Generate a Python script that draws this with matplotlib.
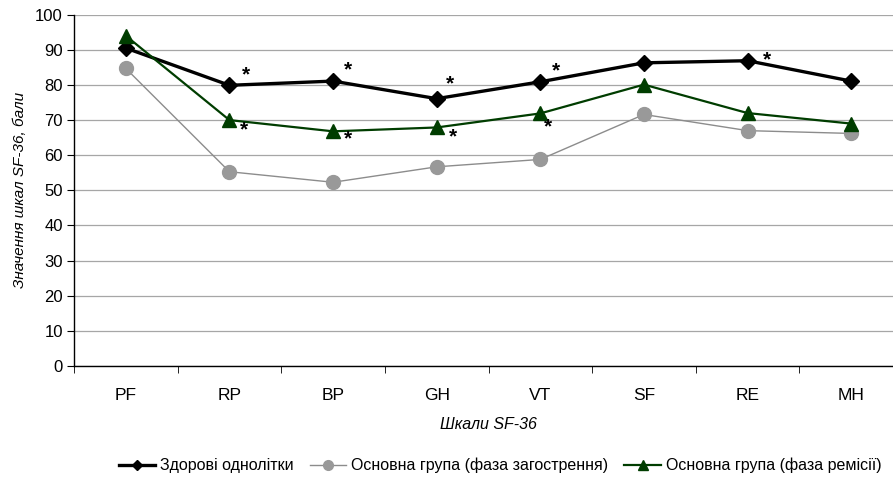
import matplotlib
matplotlib.use('Agg')
import matplotlib.pyplot as plt
from matplotlib.ticker import FixedLocator

plt.rcParams['font.family'] = ['Liberation Sans', 'DejaVu Sans']

scales = ['PF', 'RP', 'BP', 'GH', 'VT', 'SF', 'RE', 'MH']
healthy = [90.5, 79.9, 81.1, 76.1, 80.9, 86.3, 86.9, 81.1]
exacerbation = [84.7, 55.3, 52.3, 56.7, 58.8, 71.6, 67.0, 66.2]
remission = [94.0, 70.0, 66.8, 67.9, 71.9, 80.1, 72.0, 69.0]

# scales with a significant difference (marked with *)
healthy_sig = ['RP', 'BP', 'GH', 'VT', 'RE']
remission_sig = ['RP', 'BP', 'GH', 'VT']

labels = ['Здорові однолітки',
          'Основна група (фаза загострення)',
          'Основна група (фаза ремісії)']

# star offsets in pixels (dx, dy up)
healthy_off = [(17, 10), (15, 11), (13, 15), (16, 11), (19, 1)]
remission_off = [(15, -10), (15, -8), (16, -9), (8, -13)]

fig = plt.figure(figsize=(8.93, 4.8), dpi=100)
ax = fig.add_axes([74 / 893, 114 / 480, 829 / 893, 351.3 / 480])

x = list(range(len(scales)))
ax.plot(x, healthy, color='black', lw=2.4, marker='D', ms=8,
        mfc='black', mec='black', label=labels[0], zorder=3)
ax.plot(x, exacerbation, color='#8c8c8c', lw=1.0, marker='o', ms=10,
        mfc='#999999', mec='#999999', label=labels[1], zorder=3)
ax.plot(x, remission, color='#003d00', lw=1.6, marker='^', ms=10,
        mfc='#003d00', mec='#003d00', label=labels[2], zorder=3)

px = 0.72
for name, (dx, dy) in zip(healthy_sig, healthy_off):
    i = scales.index(name)
    ax.annotate('*', (i, healthy[i]), xytext=(dx * px, dy * px),
                textcoords='offset points', ha='center', va='center',
                fontsize=15, fontweight='bold')
for name, (dx, dy) in zip(remission_sig, remission_off):
    i = scales.index(name)
    ax.annotate('*', (i, remission[i]), xytext=(dx * px, dy * px),
                textcoords='offset points', ha='center', va='center',
                fontsize=15, fontweight='bold')

ax.set_xlim(-0.5, 7.5)
ax.set_ylim(0, 100)
ax.set_yticks(range(0, 101, 10))
ax.set_xticks(x)
ax.set_xticklabels(scales, fontsize=12.5)
ax.xaxis.set_minor_locator(FixedLocator([i - 0.5 for i in range(len(scales))]))
ax.tick_params(axis='x', which='major', length=0, pad=16)
ax.tick_params(axis='x', which='minor', length=5, direction='out', color='black')
ax.tick_params(axis='y', length=5, direction='out', labelsize=12, pad=3)

ax.grid(axis='y', color='#a6a6a6', lw=0.9)
ax.set_axisbelow(True)
for s in ['top', 'right']:
    ax.spines[s].set_visible(False)
ax.spines['left'].set_linewidth(1.0)
ax.spines['bottom'].set_linewidth(1.0)

ax.set_xlabel('Шкали SF-36', fontsize=11.5, style='italic', labelpad=10)
ax.set_ylabel('Значення шкал SF-36, бали', fontsize=11, style='italic', labelpad=6)

fig.legend(loc='center', bbox_to_anchor=(0.56, 0.03), ncol=3, frameon=False,
           fontsize=11.5, handlelength=2.3, handletextpad=0.3, columnspacing=1.0,
           markerscale=0.7)

fig.savefig('out.png', dpi=100)
